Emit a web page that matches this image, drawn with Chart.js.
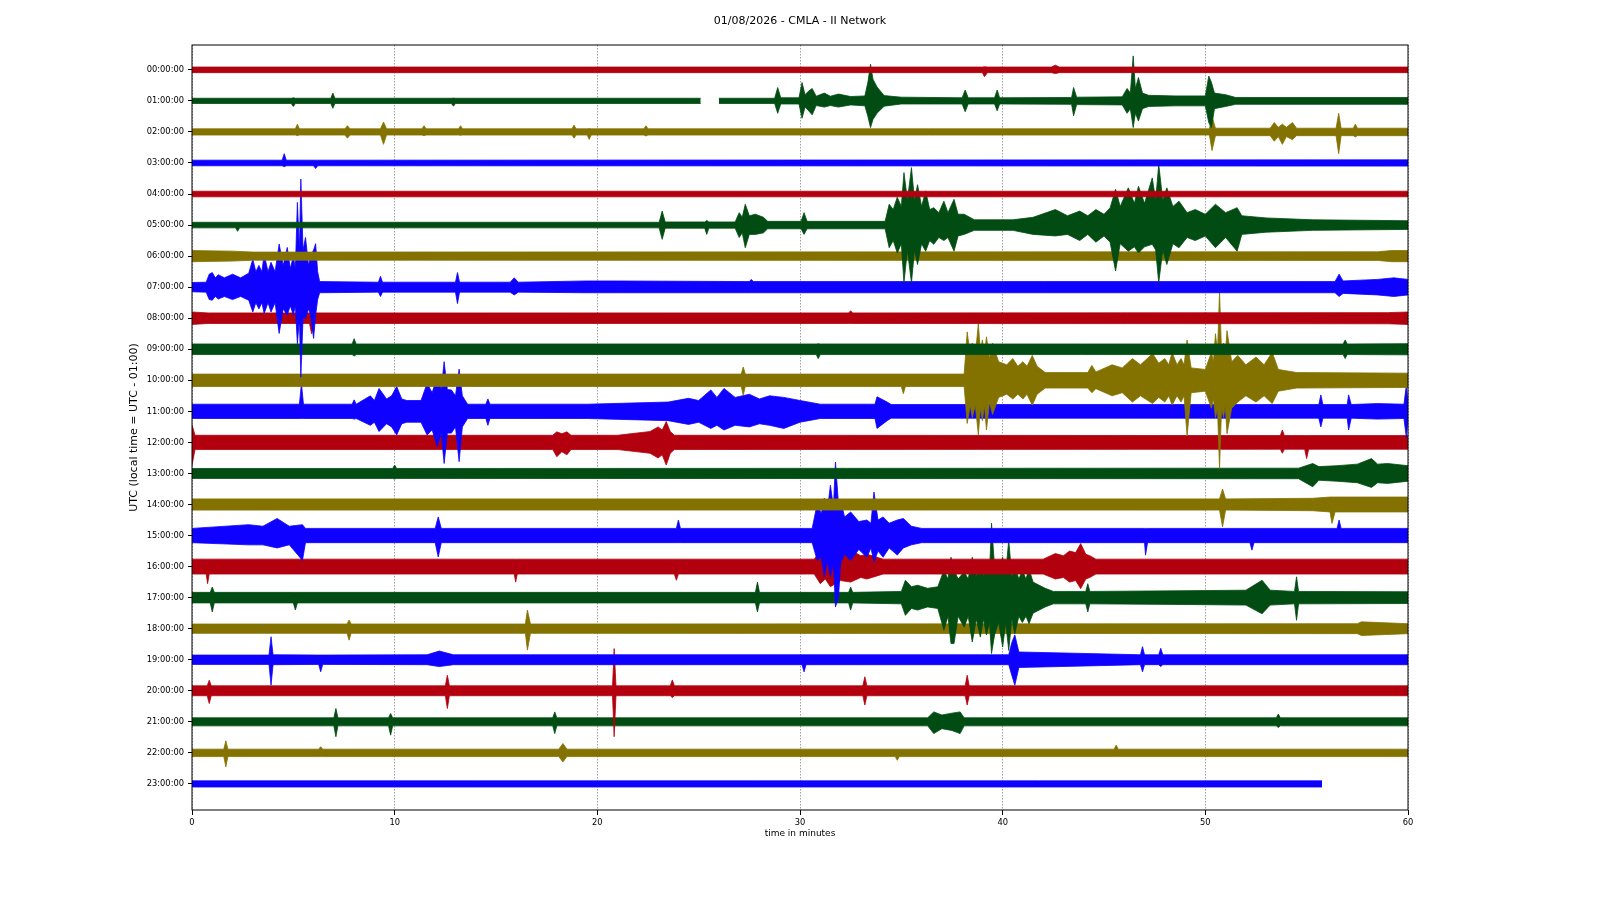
<!DOCTYPE html>
<html>
<head>
<meta charset="utf-8">
<title>01/08/2026 - CMLA - II Network</title>
<script src="https://cdn.jsdelivr.net/npm/chart.js@4.4.1/dist/chart.umd.min.js"></script>
<style>
  html, body { margin: 0; padding: 0; background: #fff; }
  #wrap { width: 1600px; height: 900px; }
</style>
</head>
<body>
<div id="wrap"><canvas id="heli" width="1600" height="900"></canvas></div>
<script>
// one line per hour, value = row index (0 at top)
var hourLabels = ["00:00:00", "01:00:00", "02:00:00", "03:00:00", "04:00:00", "05:00:00",
    "06:00:00", "07:00:00", "08:00:00", "09:00:00", "10:00:00", "11:00:00",
    "12:00:00", "13:00:00", "14:00:00", "15:00:00", "16:00:00", "17:00:00",
    "18:00:00", "19:00:00", "20:00:00", "21:00:00", "22:00:00", "23:00:00"];
var traceColors = ["#B2000F", "#004C12", "#847200", "#0E01FF"];
var minuteTicks = [0, 10, 20, 30, 40, 50, 60];

// envelope of each trace: [minute, amplitude above, amplitude below] in trace spacings
// null = data gap
var env00 = [[0,.09,.09],[39.0,.09,.09],[39.1,.1,.22],[39.25,.09,.09],[42.4,.09,.09],[42.6,.15,.12],[42.8,.09,.09],[60,.09,.09]];
var env01 = [[0,.085,.085],[4.9,.085,.085],[5.0,.1,.18],[5.1,.085,.085],[6.85,.085,.085],[6.95,.25,.24],[7.05,.085,.085],[12.8,.085,.085],[12.9,.09,.17],[13.0,.085,.085],[25.1,.085,.085],
    null,
    [26.0,.085,.085],[28.75,.085,.085],[28.9,.43,.4],[29.05,.1,.1],[29.95,.1,.1],[30.1,.59,.56],[30.25,.2,.2],[30.4,.3,.3],[30.6,.4,.45],[30.8,.15,.15],[31.2,.25,.2],
    [31.5,.15,.15],[31.9,.22,.2],[32.5,.14,.13],[33.2,.16,.16],[33.35,.6,.5],[33.48,1.18,.86],[33.6,.7,.6],[33.8,.45,.4],[34.15,.17,.17],[35,.12,.1],
    [38.0,.1,.1],[38.15,.35,.35],[38.3,.1,.1],[39.6,.1,.1],[39.73,.35,.32],[39.85,.1,.1],[43.4,.11,.11],[43.5,.43,.48],[43.65,.12,.12],[45.9,.13,.13],
    [46.14,.4,.4],[46.3,.25,.25],[46.44,1.45,.86],[46.55,.4,.4],[46.7,.75,.65],[46.9,.25,.25],[47.2,.18,.18],[48.5,.16,.16],[50.0,.16,.16],[50.17,.8,.7],
    [50.3,.6,.86],[50.45,.25,.25],[51.0,.2,.18],[51.5,.11,.11],[60,.11,.11]];
var env02 = [[0,.1,.1],[5.1,.1,.1],[5.2,.25,.12],[5.3,.1,.1],[7.55,.1,.1],[7.67,.2,.2],[7.8,.1,.1],[9.3,.1,.1],[9.45,.32,.4],[9.6,.1,.1],[11.35,.1,.1],
    [11.45,.2,.12],[11.55,.1,.1],[13.15,.1,.1],[13.25,.2,.11],[13.35,.1,.1],[18.75,.1,.1],[18.85,.22,.2],[18.95,.1,.1],[19.5,.1,.1],[19.6,.11,.24],
    [19.7,.1,.1],[22.3,.1,.1],[22.4,.2,.13],[22.5,.1,.1],[50.2,.1,.1],[50.33,.5,.6],[50.5,.12,.12],[53.2,.12,.12],[53.4,.3,.3],[53.6,.15,.15],
    [53.8,.25,.4],[54.0,.15,.15],[54.3,.3,.25],[54.5,.12,.12],[56.45,.12,.12],[56.58,.6,.7],[56.7,.12,.12],[57.3,.12,.12],[57.4,.25,.16],[57.5,.12,.12],[60,.12,.12]];
var env03 = [[0,.09,.09],[4.45,.09,.09],[4.55,.3,.12],[4.65,.09,.09],[6.0,.09,.09],[6.1,.09,.18],[6.2,.09,.09],[60,.1,.1]];
var env04 = [[0,.09,.09],[60,.09,.09]];
var env05 = [[0,.09,.09],[2.15,.09,.09],[2.25,.09,.2],[2.35,.09,.09],[23.05,.09,.09],[23.2,.45,.46],[23.35,.1,.1],[25.3,.1,.1],[25.4,.15,.3],[25.5,.1,.1],
    [26.8,.1,.1],[27.0,.4,.4],[27.15,.25,.25],[27.3,.67,.73],[27.5,.3,.3],[27.8,.35,.3],[28.2,.25,.25],[28.4,.12,.12],[30.05,.12,.12],[30.2,.4,.3],
    [30.35,.12,.12],[34.2,.12,.12],[34.4,.67,.73],[34.6,.5,.5],[34.8,.9,.9],[35.0,.6,.6],[35.13,1.69,1.86],[35.3,.8,.8],[35.5,1.85,1.86],[35.65,.8,.8],
    [35.8,1.3,1.27],[36.0,.6,.6],[36.2,1.1,.84],[36.4,.5,.5],[36.6,.56,.62],[36.85,.4,.4],[37.1,.77,.5],[37.3,.4,.4],[37.6,.83,.84],[37.8,.35,.35],
    [38.1,.35,.3],[38.6,.17,.17],[40.5,.17,.17],[41.5,.25,.3],[42.6,.5,.35],[43.2,.3,.3],[43.8,.45,.5],[44.2,.3,.3],[44.6,.5,.55],[45.0,.35,.35],
    [45.3,.55,.55],[45.57,1.15,1.48],[45.8,.6,.6],[46.2,1.2,.84],[46.5,.7,.7],[46.7,1.25,.9],[47.0,.7,.7],[47.38,1.52,.62],[47.55,.8,.8],[47.7,1.96,1.86],
    [47.9,.8,.8],[48.1,1.2,1.27],[48.4,.6,.6],[48.7,.77,.73],[49.1,.4,.4],[49.5,.5,.5],[50.0,.35,.35],[50.5,.67,.73],[51.0,.4,.4],[51.57,.56,.84],
    [51.8,.3,.3],[53,.23,.23],[55.3,.17,.17],[60,.14,.14]];
var env06 = [[0,.18,.18],[2.0,.16,.16],[3.0,.13,.13],[58.5,.14,.14],[59.2,.18,.18],[60,.18,.18]];
var env07 = [[0,.15,.15],[0.7,.16,.16],[0.85,.42,.4],[1.0,.47,.42],[1.15,.3,.3],[1.3,.4,.38],[1.6,.3,.3],[2.0,.42,.4],[2.4,.3,.3],[2.8,.45,.42],
    [3.0,.9,.8],[3.15,.5,.5],[3.3,.7,.7],[3.45,.5,.5],[3.56,1.06,.85],[3.75,.5,.5],[3.9,.8,.8],[4.1,.5,.5],[4.3,1.39,1.49],[4.5,.7,.7],[4.7,1.28,.9],
    [4.85,.6,.6],[5.0,1.0,.9],[5.1,.6,.6],[5.2,2.73,1.82],[5.3,1.2,1.0],[5.37,3.48,2.9],[5.48,1.2,1.0],[5.6,1.6,1.0],[5.75,.7,.7],[5.85,1.0,.9],
    [6.0,1.2,1.65],[6.1,1.4,.9],[6.2,.5,.4],[6.3,.18,.18],[9.2,.16,.16],[9.3,.35,.3],[9.4,.16,.16],[13.0,.16,.16],[13.1,.47,.53],[13.2,.16,.16],
    [15.7,.16,.16],[15.9,.3,.25],[16.1,.16,.16],[19.4,.2,.18],[21,.2,.18],[27.5,.18,.18],[27.6,.25,.18],[27.7,.18,.18],[56.4,.18,.18],[56.6,.42,.3],
    [56.8,.2,.2],[58.5,.25,.25],[59.3,.3,.3],[60,.25,.25]];
var env08 = [[0,.2,.2],[0.8,.17,.17],[5.8,.17,.17],[5.9,.18,.5],[6.0,.17,.17],[32.4,.17,.17],[32.5,.24,.17],[32.6,.17,.17],[59,.18,.18],[60,.2,.2]];
var env09 = [[0,.17,.17],[7.9,.17,.17],[8.0,.34,.22],[8.1,.17,.17],[30.8,.17,.17],[30.9,.18,.3],[31.0,.17,.17],[56.8,.17,.17],[56.9,.3,.3],[57.0,.17,.17],[60,.18,.18]];
var env10 = [[0,.2,.2],[27.1,.2,.2],[27.2,.43,.48],[27.3,.2,.2],[35.0,.2,.2],[35.1,.2,.43],[35.2,.2,.2],[38.1,.2,.2],[38.25,1.56,1.39],[38.4,.8,.8],
    [38.5,1.2,1.2],[38.65,.8,.8],[38.8,1.83,1.76],[38.9,.9,.9],[39.0,1.3,1.3],[39.1,.8,.8],[39.2,1.4,1.6],[39.35,.7,.7],[39.5,1.2,1.1],[39.8,.6,.55],
    [40.2,.5,.45],[40.5,.7,.6],[40.75,.45,.45],[41.0,.6,.6],[41.2,.45,.45],[41.46,.8,.8],[41.7,.45,.45],[42.1,.25,.25],[44.2,.25,.25],[44.4,.48,.4],
    [44.6,.27,.27],[45.4,.5,.5],[45.9,.4,.4],[46.4,.7,.7],[46.8,.5,.5],[47.4,.86,.75],[47.7,.55,.55],[48.0,.7,.7],[48.2,.5,.5],[48.36,.9,.8],[48.6,.5,.5],
    [48.8,.7,.7],[48.95,.5,.5],[49.1,1.3,1.8],[49.3,.4,.4],[50.0,.35,.35],[50.3,.9,.9],[50.4,.6,.6],[50.5,1.5,1.2],[50.6,.9,.9],[50.7,2.85,2.85],
    [50.8,.9,.9],[50.9,1.2,1.2],[50.98,.8,.8],[51.07,1.6,1.72],[51.3,.6,.9],[51.6,.8,.7],[52.0,.5,.5],[52.5,.75,.7],[52.9,.5,.5],[53.3,.9,.75],
    [53.6,.35,.35],[54.5,.25,.25],[60,.23,.23]];
var env11 = [[0,.23,.23],[5.3,.23,.23],[5.4,.9,.23],[5.5,.23,.23],[7.9,.23,.23],[8.0,.37,.25],[8.1,.23,.23],[8.8,.5,.45],[9.0,.35,.35],[9.23,.74,.65],
    [9.6,.4,.4],[9.85,.5,.5],[10.1,.8,.76],[10.35,.4,.4],[10.6,.35,.35],[11.3,.35,.35],[11.6,.9,.76],[11.85,.6,.6],[12.1,1.12,1.14],[12.3,.7,.7],
    [12.44,1.6,1.68],[12.6,.7,.7],[12.8,.69,.7],[13.0,.5,.5],[13.18,1.36,1.62],[13.34,.5,.5],[13.6,.23,.23],[14.5,.23,.23],[14.6,.4,.45],[14.7,.23,.23],
    [19.5,.23,.23],[23.5,.3,.3],[24.5,.42,.42],[25.0,.35,.35],[25.6,.69,.55],[25.9,.45,.45],[26.25,.74,.6],[26.8,.45,.45],[27.5,.55,.5],[28.0,.4,.4],
    [28.5,.5,.45],[29.2,.45,.55],[30.0,.35,.35],[31,.23,.23],[33.7,.23,.23],[33.8,.47,.55],[34.3,.3,.3],[34.5,.22,.22],[55.6,.22,.22],[55.7,.53,.5],
    [55.8,.22,.22],[57.0,.22,.22],[57.07,.53,.6],[57.2,.22,.22],[58.5,.25,.25],[59.8,.23,.23],[59.92,.85,.85],[60,.23,.23]];
var env12 = [[0,.56,.73],[0.15,.23,.23],[17.8,.23,.23],[18.0,.34,.46],[18.25,.28,.3],[18.5,.34,.4],[18.7,.23,.23],[21.0,.23,.23],[22.2,.32,.32],
    [22.6,.35,.35],[23.0,.5,.5],[23.2,.4,.4],[23.4,.67,.73],[23.6,.35,.35],[23.8,.23,.23],[53.7,.22,.22],[53.8,.4,.35],[53.9,.22,.22],[54.9,.22,.22],
    [55.0,.22,.52],[55.1,.22,.22],[60,.22,.22]];
var env13 = [[0,.16,.16],[9.9,.16,.16],[10.0,.27,.18],[10.1,.16,.16],[54.6,.17,.17],[55.3,.32,.43],[55.6,.22,.22],[56.5,.25,.25],[57.5,.3,.3],
    [58.2,.48,.45],[58.5,.3,.3],[59,.32,.32],[60,.25,.25]];
var env14 = [[0,.18,.18],[50.7,.18,.18],[50.85,.5,.72],[51.0,.18,.18],[55.3,.2,.2],[56.15,.24,.24],[56.25,.24,.61],[56.4,.24,.24],[60,.24,.24]];
var env15 = [[0,.23,.23],[2.8,.35,.3],[3.5,.3,.3],[4.2,.55,.4],[4.8,.3,.3],[5.45,.35,.8],[5.6,.23,.23],[12.0,.23,.23],[12.15,.6,.69],[12.3,.23,.23],
    [23.9,.23,.23],[24.0,.5,.23],[24.1,.23,.23],[30.6,.23,.23],[30.85,1.03,.8],[31.05,.7,.7],[31.2,1.2,1.33],[31.35,.8,.8],[31.5,1.62,1.33],[31.65,.9,.9],
    [31.75,2.37,2.3],[31.9,1.0,2.0],[32.0,1.14,.9],[32.2,.6,.6],[32.5,.76,.8],[32.9,.45,.45],[33.3,.5,.7],[33.5,.4,.4],[33.65,1.4,.85],[33.85,.5,.5],
    [34.1,.6,.7],[34.4,.4,.4],[34.8,.5,.63],[35.1,.55,.4],[35.5,.3,.3],[36,.23,.23],[47.0,.23,.23],[47.05,.23,.63],[47.15,.23,.23],[52.2,.23,.23],
    [52.3,.23,.47],[52.4,.23,.23],[56.5,.23,.23],[56.6,.5,.23],[56.7,.23,.23],[60,.23,.23]];
var env16 = [[0,.24,.24],[0.7,.24,.24],[0.77,.24,.55],[0.85,.24,.24],[15.9,.24,.24],[15.97,.24,.5],[16.05,.24,.24],[23.8,.24,.24],[23.9,.24,.44],
    [24.0,.24,.24],[30.7,.24,.24],[31.0,.5,.55],[31.25,.4,.4],[31.5,.63,.65],[32.0,.4,.45],[32.5,.53,.5],[33.0,.35,.35],[33.3,.4,.4],[33.8,.3,.3],
    [34.1,.24,.24],[42.0,.24,.24],[42.6,.42,.4],[43.0,.35,.35],[43.3,.5,.5],[43.6,.45,.45],[43.85,.74,.71],[44.1,.4,.4],[44.3,.35,.35],[44.6,.24,.24],[60,.24,.24]];
var env17 = [[0,.17,.17],[0.9,.17,.17],[1.0,.34,.46],[1.1,.17,.17],[5.0,.17,.17],[5.1,.17,.4],[5.2,.17,.17],[27.8,.17,.17],[27.9,.5,.46],[28.0,.17,.17],
    [32.4,.17,.17],[32.5,.34,.4],[32.6,.17,.17],[35.0,.2,.2],[35.2,.56,.57],[35.5,.35,.35],[35.8,.4,.4],[36.3,.3,.3],[36.8,.35,.35],[37.1,.88,1.05],
    [37.3,.6,.6],[37.45,1.3,1.48],[37.6,.9,1.48],[37.8,.6,.6],[38.1,.83,.95],[38.3,.6,.6],[38.5,1.3,1.43],[38.7,.7,.7],[38.9,1.1,1.27],[39.05,.7,.7],
    [39.2,1.2,1.2],[39.35,.8,.8],[39.45,2.4,1.8],[39.6,1.0,1.2],[39.8,.8,.8],[40.0,1.3,1.59],[40.15,.8,.8],[40.3,1.85,1.7],[40.45,.7,.7],[40.6,1.0,1.16],
    [40.8,.6,.6],[40.97,.88,.8],[41.15,.6,.6],[41.3,.93,.84],[41.5,.5,.5],[42.1,.3,.3],[42.5,.2,.2],[44.1,.2,.2],[44.2,.45,.46],[44.3,.2,.2],
    [48.7,.22,.22],[52.0,.24,.24],[52.8,.56,.52],[53.2,.24,.24],[54.4,.2,.2],[54.5,.67,.73],[54.6,.2,.2],[60,.19,.19]];
var env18 = [[0,.15,.15],[7.65,.15,.15],[7.75,.28,.37],[7.85,.15,.15],[16.45,.15,.15],[16.55,.6,.69],[16.7,.15,.15],[57.5,.16,.16],[57.7,.22,.22],[60,.16,.16]];
var env19 = [[0,.15,.15],[3.8,.15,.15],[3.9,.74,.82],[4.0,.16,.16],[6.25,.15,.15],[6.35,.15,.39],[6.45,.15,.15],[11.6,.16,.16],[12.2,.28,.22],
    [12.9,.16,.16],[30.1,.16,.16],[30.2,.16,.39],[30.3,.16,.16],[40.3,.16,.16],[40.45,.55,.5],[40.6,.8,.82],[40.8,.25,.25],[46.8,.16,.16],[46.9,.42,.39],
    [47.0,.16,.16],[47.7,.16,.16],[47.8,.37,.22],[47.9,.16,.16],[60,.16,.16]];
var env20 = [[0,.16,.16],[0.75,.16,.16],[0.85,.34,.41],[0.95,.16,.16],[12.5,.16,.16],[12.6,.5,.57],[12.7,.16,.16],[20.75,.16,.16],[20.83,1.36,1.48],
    [20.92,.16,.16],[23.6,.16,.16],[23.7,.35,.22],[23.8,.16,.16],[33.1,.16,.16],[33.2,.45,.46],[33.3,.16,.16],[38.15,.16,.16],[38.25,.5,.46],[38.35,.16,.16],[60,.16,.16]];
var env21 = [[0,.13,.13],[7.0,.13,.13],[7.1,.43,.48],[7.2,.13,.13],[9.7,.13,.13],[9.8,.27,.43],[9.9,.13,.13],[17.8,.13,.13],[17.9,.32,.38],[18.0,.13,.13],
    [36.3,.13,.13],[36.6,.32,.38],[37.0,.22,.22],[37.5,.28,.28],[37.9,.32,.38],[38.1,.13,.13],[53.5,.13,.13],[53.6,.25,.18],[53.7,.13,.13],[60,.13,.13]];
var env22 = [[0,.12,.12],[1.57,.12,.12],[1.67,.39,.45],[1.77,.12,.12],[6.25,.12,.12],[6.35,.2,.12],[6.45,.12,.12],[18.1,.12,.12],[18.3,.3,.29],
    [18.5,.12,.12],[34.7,.12,.12],[34.8,.12,.24],[34.9,.12,.12],[45.5,.12,.12],[45.6,.25,.12],[45.7,.12,.12],[60,.12,.12]];
var env23 = [[0,.1,.1],[55.76,.1,.1]];

var envelopes = [env00, env01, env02, env03, env04, env05, env06, env07, env08, env09, env10, env11,
    env12, env13, env14, env15, env16, env17, env18, env19, env20, env21, env22, env23];

// two lines per trace segment, the lower one filled up to the upper one
function buildDatasets() {
    var sets = [];
    envelopes.forEach(function (env, h) {
        var color = traceColors[h % traceColors.length];
        var parts = [[]];
        env.forEach(function (p) {
            if (p === null) parts.push([]);
            else parts[parts.length - 1].push(p);
        });
        parts.forEach(function (part) {
            sets.push({
                data: part.map(function (p) { return { x: p[0], y: h - p[1] }; }),
                borderColor: color, backgroundColor: color,
                borderWidth: 0.8, pointRadius: 0, fill: false
            });
            sets.push({
                data: part.map(function (p) { return { x: p[0], y: h + p[2] }; }),
                borderColor: color, backgroundColor: color,
                borderWidth: 0.8, pointRadius: 0, fill: "-1"
            });
        });
    });
    return sets;
}

// box around the plot like matplotlib spines
var framePlugin = {
    id: "frame",
    afterDraw: function (chart) {
        var a = chart.chartArea, ctx = chart.ctx;
        ctx.save();
        ctx.strokeStyle = "#000";
        ctx.lineWidth = 1;
        ctx.strokeRect(a.left, a.top, a.right - a.left, a.bottom - a.top);
        ctx.restore();
    }
};

Chart.defaults.font.family = "'DejaVu Sans', sans-serif";
Chart.defaults.color = "#000";

var chart = new Chart(document.getElementById("heli").getContext("2d"), {
    type: "line",
    data: { datasets: buildDatasets() },
    options: {
        responsive: false,
        devicePixelRatio: 1,
        animation: false,
        events: [],
        layout: { padding: { left: 0, right: 192, top: 0, bottom: 50 } },
        plugins: {
            legend: { display: false },
            tooltip: { enabled: false },
            title: {
                display: true,
                text: "01/08/2026 - CMLA - II Network",
                fullSize: false,
                color: "#000",
                font: { size: 11, weight: "normal" },
                padding: { top: 15, bottom: 16.8 }
            }
        },
        scales: {
            x: {
                type: "linear",
                min: 0,
                max: 60,
                afterBuildTicks: function (axis) {
                    axis.ticks = minuteTicks.map(function (v) { return { value: v }; });
                },
                afterFit: function (axis) { axis.height = 40; },
                ticks: { font: { size: 8.3 }, color: "#000", padding: 3, maxRotation: 0 },
                grid: { color: "#a0a0a0", lineWidth: 1, drawTicks: true, tickLength: 5, tickColor: "#000", tickWidth: 1 },
                border: { display: false, dash: [1.5, 1.5] },
                title: { display: true, text: "time in minutes", color: "#000", font: { size: 9 }, padding: { top: 0, bottom: 10.6 } }
            },
            y: {
                type: "linear",
                reverse: true,
                min: -0.8,
                max: 23.84,
                afterBuildTicks: function (axis) {
                    axis.ticks = hourLabels.map(function (_, i) { return { value: i }; });
                },
                afterFit: function (axis) { axis.width = 192; },
                ticks: {
                    font: { size: 8.3 }, color: "#000", padding: 4,
                    callback: function (v) { return hourLabels[v]; }
                },
                grid: { drawOnChartArea: false, drawTicks: true, tickLength: 4, tickColor: "#000", tickWidth: 1 },
                border: { display: false },
                title: { display: true, text: "UTC (local time = UTC - 01:00)", color: "#000", font: { size: 11 }, padding: { top: 127.4, bottom: 0 } }
            }
        }
    },
    plugins: [framePlugin]
});
</script>
</body>
</html>
